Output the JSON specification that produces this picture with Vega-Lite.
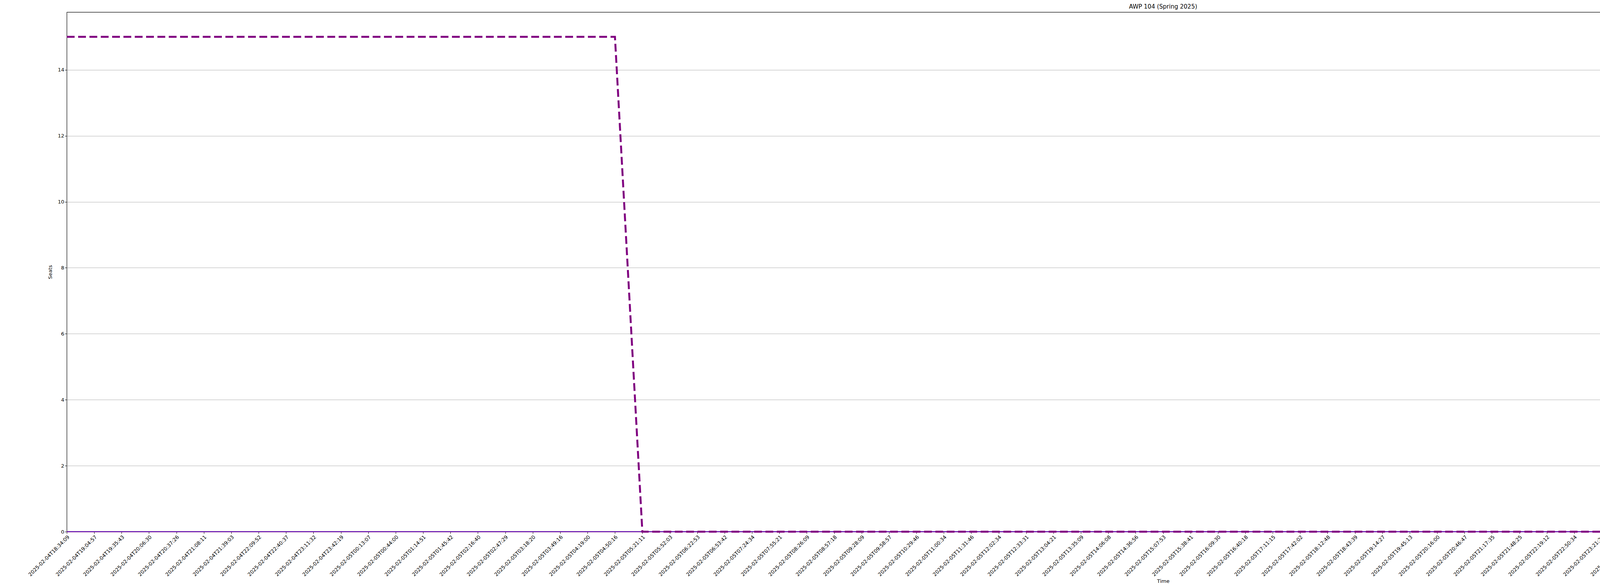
{
  "$schema": "https://vega.github.io/schema/vega-lite/v6.json",
  "autosize": {"type": "fit", "contains": "padding"},
  "padding": {"left": 70, "top": 10, "right": 10, "bottom": 5},
  "width": 6000,
  "height": 1500,
  "title": {"text": "AWP 104 (Spring 2025)", "fontSize": 15, "font": "DejaVu Sans", "fontWeight": "normal", "offset": 6},
  "config": {
    "font": "DejaVu Sans",
    "view": {"stroke": "black", "strokeWidth": 1.2},
    "axis": {"gridColor": "#b0b0b0", "gridWidth": 1.2, "domain": false, "tickColor": "black", "labelColor": "black", "labelFontSize": 13, "titleFontSize": 13, "titleFontWeight": "normal", "titleColor": "black"}
  },
  "data": {
    "values": [
      {"t": "2025-02-04T18:34:09", "total": 15}, {"t": "2025-02-04T19:04:57", "total": 15},
      {"t": "2025-02-04T19:35:43", "total": 15}, {"t": "2025-02-04T20:06:30", "total": 15},
      {"t": "2025-02-04T20:37:26", "total": 15}, {"t": "2025-02-04T21:08:11", "total": 15},
      {"t": "2025-02-04T21:39:03", "total": 15}, {"t": "2025-02-04T22:09:52", "total": 15},
      {"t": "2025-02-04T22:40:37", "total": 15}, {"t": "2025-02-04T23:11:32", "total": 15},
      {"t": "2025-02-04T23:42:19", "total": 15}, {"t": "2025-02-05T00:13:07", "total": 15},
      {"t": "2025-02-05T00:44:00", "total": 15}, {"t": "2025-02-05T01:14:51", "total": 15},
      {"t": "2025-02-05T01:45:42", "total": 15}, {"t": "2025-02-05T02:16:40", "total": 15},
      {"t": "2025-02-05T02:47:29", "total": 15}, {"t": "2025-02-05T03:18:20", "total": 15},
      {"t": "2025-02-05T03:49:16", "total": 15}, {"t": "2025-02-05T04:19:00", "total": 15},
      {"t": "2025-02-05T04:50:16", "total": 15}, {"t": "2025-02-05T05:21:11", "total": 0},
      {"t": "2025-02-05T05:52:03", "total": 0}, {"t": "2025-02-05T06:22:53", "total": 0},
      {"t": "2025-02-05T06:53:42", "total": 0}, {"t": "2025-02-05T07:24:34", "total": 0},
      {"t": "2025-02-05T07:55:21", "total": 0}, {"t": "2025-02-05T08:26:09", "total": 0},
      {"t": "2025-02-05T08:57:18", "total": 0}, {"t": "2025-02-05T09:28:09", "total": 0},
      {"t": "2025-02-05T09:58:57", "total": 0}, {"t": "2025-02-05T10:29:46", "total": 0},
      {"t": "2025-02-05T11:00:34", "total": 0}, {"t": "2025-02-05T11:31:46", "total": 0},
      {"t": "2025-02-05T12:02:34", "total": 0}, {"t": "2025-02-05T12:33:31", "total": 0},
      {"t": "2025-02-05T13:04:21", "total": 0}, {"t": "2025-02-05T13:35:09", "total": 0},
      {"t": "2025-02-05T14:06:08", "total": 0}, {"t": "2025-02-05T14:36:56", "total": 0},
      {"t": "2025-02-05T15:07:53", "total": 0}, {"t": "2025-02-05T15:38:41", "total": 0},
      {"t": "2025-02-05T16:09:30", "total": 0}, {"t": "2025-02-05T16:40:18", "total": 0},
      {"t": "2025-02-05T17:11:15", "total": 0}, {"t": "2025-02-05T17:42:02", "total": 0},
      {"t": "2025-02-05T18:12:48", "total": 0}, {"t": "2025-02-05T18:43:39", "total": 0},
      {"t": "2025-02-05T19:14:27", "total": 0}, {"t": "2025-02-05T19:45:13", "total": 0},
      {"t": "2025-02-05T20:16:00", "total": 0}, {"t": "2025-02-05T20:46:47", "total": 0},
      {"t": "2025-02-05T21:17:35", "total": 0}, {"t": "2025-02-05T21:48:25", "total": 0},
      {"t": "2025-02-05T22:19:12", "total": 0}, {"t": "2025-02-05T22:50:34", "total": 0},
      {"t": "2025-02-05T23:21:23", "total": 0}, {"t": "2025-02-05T23:52:10", "total": 0},
      {"t": "2025-02-06T00:23:01", "total": 0}, {"t": "2025-02-06T00:53:54", "total": 0},
      {"t": "2025-02-06T01:24:48", "total": 0}, {"t": "2025-02-06T01:55:42", "total": 0},
      {"t": "2025-02-06T02:26:34", "total": 0}, {"t": "2025-02-06T02:57:40", "total": 0},
      {"t": "2025-02-06T03:28:40", "total": 0}, {"t": "2025-02-06T03:59:29", "total": 0},
      {"t": "2025-02-06T04:20:38", "total": 0}, {"t": "2025-02-06T04:51:48", "total": 0},
      {"t": "2025-02-06T05:22:47", "total": 0}, {"t": "2025-02-06T05:53:40", "total": 0},
      {"t": "2025-02-06T06:24:32", "total": 0}, {"t": "2025-02-06T06:55:21", "total": 0},
      {"t": "2025-02-06T07:26:13", "total": 0}, {"t": "2025-02-06T07:57:00", "total": 0},
      {"t": "2025-02-06T08:27:48", "total": 0}, {"t": "2025-02-06T08:58:44", "total": 0},
      {"t": "2025-02-06T09:29:31", "total": 0}, {"t": "2025-02-06T10:00:19", "total": 0},
      {"t": "2025-02-06T10:31:06", "total": 0}, {"t": "2025-02-06T11:01:55", "total": 0},
      {"t": "2025-02-06T11:32:55", "total": 0}
    ]
  },
  "transform": [
    {"calculate": "0", "as": "waitlisted"},
    {"calculate": "0", "as": "enrolled"},
    {"fold": ["total", "waitlisted", "enrolled"], "as": ["key", "seats"]},
    {"calculate": "datum.key == 'total' ? 'Total Seats' : datum.key == 'waitlisted' ? 'Waitlisted' : 'Enrolled'", "as": "series"}
  ],
  "encoding": {
    "x": {
      "field": "t", "type": "ordinal", "sort": null, "title": "Time",
      "scale": {"type": "point", "padding": 0},
      "axis": {"labelAngle": -45, "labelAlign": "right", "labelBaseline": "top", "labelOverlap": false, "tickSize": 5, "titlePadding": 4}
    },
    "y": {
      "field": "seats", "type": "quantitative", "title": "Seats",
      "scale": {"domain": [0, 15.75], "nice": false},
      "axis": {"values": [0, 2, 4, 6, 8, 10, 12, 14], "tickSize": 5, "titlePadding": 12}
    },
    "color": {
      "field": "series", "type": "nominal",
      "scale": {"domain": ["Total Seats", "Waitlisted", "Enrolled"], "range": ["purple", "blue", "red"]},
      "legend": {"title": null, "orient": "right", "offset": 95, "symbolType": "stroke", "symbolStrokeWidth": 3, "labelFontSize": 13, "strokeColor": "#cccccc", "padding": 6, "cornerRadius": 3, "fillColor": "white"}
    }
  },
  "layer": [
    {"transform": [{"filter": "datum.key == 'enrolled'"}], "mark": {"type": "line", "strokeWidth": 2.5}},
    {"transform": [{"filter": "datum.key == 'waitlisted'"}], "mark": {"type": "line", "strokeWidth": 1.5}},
    {"transform": [{"filter": "datum.key == 'total'"}], "mark": {"type": "line", "strokeWidth": 5, "strokeDash": [20, 9]}}
  ]
}
